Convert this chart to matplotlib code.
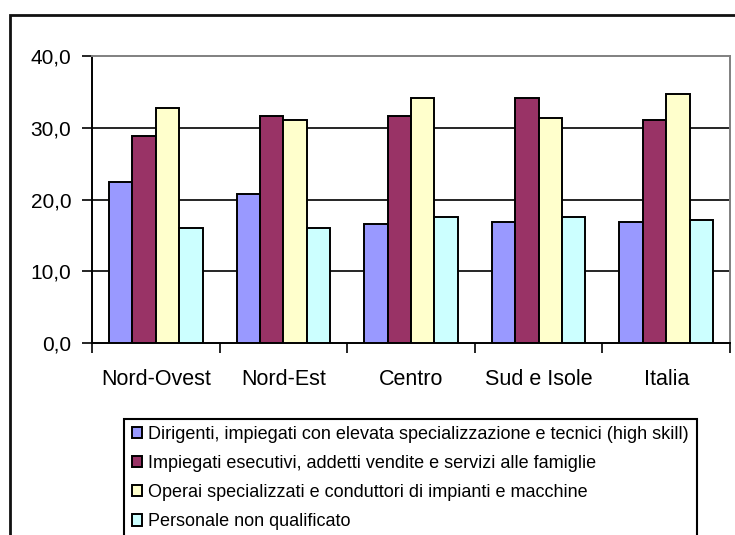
import matplotlib
matplotlib.use("Agg")
import matplotlib.pyplot as plt
from matplotlib.patches import Rectangle, Patch
from matplotlib.ticker import FixedLocator, FuncFormatter
import numpy as np

plt.rcParams['font.family'] = ['Liberation Sans', 'DejaVu Sans']

regions = ["Nord-Ovest", "Nord-Est", "Centro", "Sud e Isole", "Italia"]
series_names = [
    "Dirigenti, impiegati con elevata specializzazione e tecnici (high skill)",
    "Impiegati esecutivi, addetti vendite e servizi alle famiglie",
    "Operai specializzati e conduttori di impianti e macchine",
    "Personale non qualificato",
]
high_skill = [22.4, 20.8, 16.6, 16.9, 16.9]
impiegati = [28.9, 31.6, 31.6, 34.2, 31.1]
operai = [32.8, 31.1, 34.2, 31.4, 34.7]
non_qualificato = [16.0, 16.0, 17.5, 17.5, 17.2]
series_values = [high_skill, impiegati, operai, non_qualificato]
colors = ["#9999FF", "#993366", "#FFFFCC", "#CCFFFF"]
y_ticks = [0, 10, 20, 30, 40]

W, H = 735, 535
fig = plt.figure(figsize=(W / 100, H / 100), dpi=100)
fig.patch.set_facecolor("white")

# outer chart frame (runs past the right and bottom edges)
fig.patches.append(Rectangle((10 / W, -0.05), 1.0, (H - 15) / H + 0.05,
                             transform=fig.transFigure, fill=False,
                             edgecolor="#111111", linewidth=2.0, clip_on=False))

ax = fig.add_axes([92 / W, (H - 343) / H, 638 / W, 287 / H])

x = np.arange(len(regions))
bw = 0.1834
for i, (vals, col) in enumerate(zip(series_values, colors)):
    ax.bar(x + (i - 1.5) * bw, vals, width=bw, color=col, edgecolor="black",
           linewidth=1.4, zorder=3)

ax.set_xlim(-0.5, len(regions) - 0.5)
ax.set_ylim(0, 40)

for v in y_ticks[1:-1]:
    ax.axhline(v, color="black", linewidth=1.2, zorder=1)

ax.set_yticks(y_ticks)
ax.yaxis.set_major_formatter(FuncFormatter(lambda v, p: f"{v:.1f}".replace(".", ",")))
ax.tick_params(axis="y", direction="out", length=7, width=1.2, labelsize=15,
               pad=8, color="black")

# category boundaries carry the tick marks, labels sit at the centres
ax.xaxis.set_major_locator(FixedLocator(np.arange(len(regions) + 1) - 0.5))
ax.xaxis.set_major_formatter(FuncFormatter(lambda v, p: ""))
ax.xaxis.set_minor_locator(FixedLocator(x))
ax.set_xticklabels(regions, minor=True)
ax.tick_params(axis="x", which="major", direction="out", length=7, width=1.2)
ax.tick_params(axis="x", which="minor", length=0, labelsize=15.5, pad=19)

for side in ("left", "bottom"):
    ax.spines[side].set_color("black")
    ax.spines[side].set_linewidth(1.4)
for side in ("top", "right"):
    ax.spines[side].set_color("#808080")
    ax.spines[side].set_linewidth(1.4)

# legend box
fig.patches.append(Rectangle((124 / W, -0.05), (697 - 124) / W, (H - 419) / H + 0.05,
                             transform=fig.transFigure, fill=False,
                             edgecolor="black", linewidth=1.5, clip_on=False))
handles = [Patch(facecolor=c, edgecolor="black", linewidth=1.4) for c in colors]
fig.legend(handles, series_names, loc="upper left",
           bbox_to_anchor=(128 / W, (H - 422) / H), frameon=False,
           fontsize=13, handlelength=0.58, handleheight=0.58, handletextpad=0.35,
           labelspacing=0.68, borderpad=0.2, borderaxespad=0)

fig.savefig("out.png", dpi=100)
